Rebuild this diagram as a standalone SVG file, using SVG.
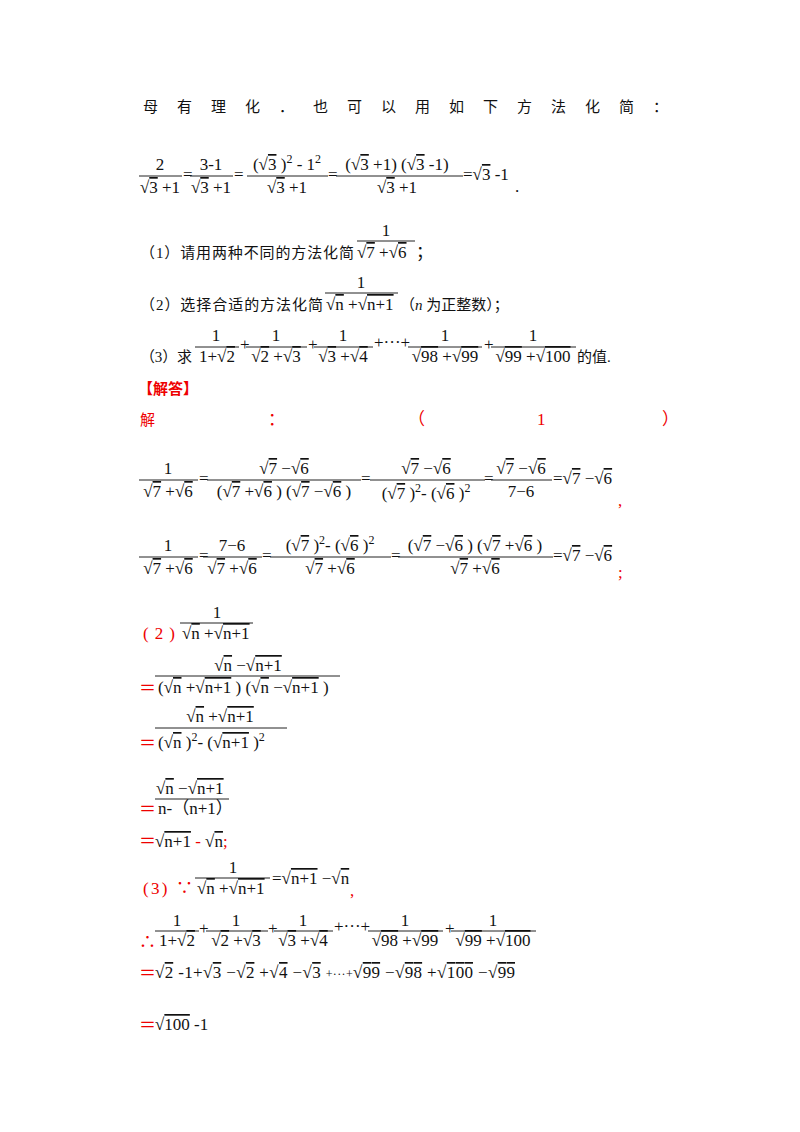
<svg xmlns="http://www.w3.org/2000/svg" width="800" height="1132" viewBox="0 0 800 1132">
<style>
text{font-family:"Liberation Serif","Noto Sans CJK SC",serif;font-size:17px;fill:#111}
.z{font-size:15px}
.c{text-anchor:middle}
.r{fill:#e00}
.o{text-decoration:overline}
line{stroke:#222;stroke-width:1}
</style>
<rect width="800" height="1132" fill="#fff"/>
<g id="intro">
<text class="z" x="143" y="112" textLength="525" lengthAdjust="spacing">母有理化．也可以用如下方法化简：</text>
</g>
<g id="eq0">
<text class="c" x="160" y="170">2</text><line x1="139" y1="176" x2="182" y2="176"/><text class="c" x="160" y="193">√<tspan class="o">3</tspan> +1</text>
<text x="183" y="180">=</text>
<text class="c" x="211" y="170">3-1</text><line x1="190" y1="176" x2="233" y2="176"/><text class="c" x="211" y="193">√<tspan class="o">3</tspan> +1</text>
<text x="234" y="180">=</text>
<text class="c" x="287" y="170">(√<tspan class="o">3</tspan> )<tspan dy="-7" font-size="12">2</tspan><tspan dy="7"> - 1</tspan><tspan dy="-7" font-size="12">2</tspan></text><line x1="247" y1="176" x2="328" y2="176"/><text class="c" x="287" y="193">√<tspan class="o">3</tspan> +1</text>
<text x="328" y="180">=</text>
<text class="c" x="397" y="170">(√<tspan class="o">3</tspan> +1) (√<tspan class="o">3</tspan> -1)</text><line x1="336" y1="176" x2="463" y2="176"/><text class="c" x="397" y="193">√<tspan class="o">3</tspan> +1</text>
<text x="463" y="180">=√<tspan class="o">3</tspan> -1</text>
<text x="515" y="192">.</text>
</g>
<g id="q1">
<text class="z" x="140" y="258" textLength="214">（1）请用两种不同的方法化简</text>
<text class="c" x="386" y="236">1</text><line x1="357" y1="241" x2="415" y2="241"/><text x="357" y="258">√<tspan class="o">7</tspan> +√<tspan class="o">6</tspan></text>
<text x="416" y="258">；</text>
</g>
<g id="q2">
<text class="z" x="140" y="310" textLength="183">（2）选择合适的方法化简</text>
<text class="c" x="361" y="288">1</text><line x1="325" y1="293" x2="398" y2="293"/><text x="326" y="310">√<tspan class="o">n</tspan> +√<tspan class="o">n+1</tspan></text>
<text class="z" x="400" y="310">（<tspan font-style="italic">n</tspan> 为正整数）；</text>
</g>
<g id="q3">
<text class="z" x="140" y="362" textLength="52">（3）求</text>
<text class="c" x="216" y="341">1</text><line x1="195" y1="347" x2="239" y2="347"/><text class="c" x="217" y="362">1+√<tspan class="o">2</tspan></text>
<text x="240" y="350" font-size="12">+</text>
<text class="c" x="276" y="341">1</text><line x1="246" y1="347" x2="307" y2="347"/><text class="c" x="276" y="362">√<tspan class="o">2</tspan> +√<tspan class="o">3</tspan></text>
<text x="308" y="350" font-size="12">+</text>
<text class="c" x="343" y="341">1</text><line x1="314" y1="347" x2="373" y2="347"/><text class="c" x="343" y="362">√<tspan class="o">3</tspan> +√<tspan class="o">4</tspan></text>
<text x="374" y="348" font-size="12">+···+</text>
<text class="c" x="445" y="341">1</text><line x1="408" y1="347" x2="482" y2="347"/><text class="c" x="445" y="362">√<tspan class="o">98</tspan> +√<tspan class="o">99</tspan></text>
<text x="484" y="350" font-size="12">+</text>
<text class="c" x="533" y="341">1</text><line x1="491" y1="347" x2="576" y2="347"/><text class="c" x="533" y="362">√<tspan class="o">99</tspan> +√<tspan class="o">100</tspan></text>
<text class="z" x="577" y="362">的值.</text>
</g>
<g id="answer">
<text class="r z" x="138" y="394" font-weight="bold">【解答】</text>
<text class="r z" x="140" y="425">解</text><text class="r" x="268" y="425">：</text><text class="r" x="408" y="425">（</text><text class="r" x="537" y="425">1</text><text class="r" x="662" y="425">）</text>
</g>
<g id="p1a">
<text class="c" x="168" y="474">1</text><line x1="139" y1="480" x2="198" y2="480"/><text class="c" x="168" y="497">√<tspan class="o">7</tspan> +√<tspan class="o">6</tspan></text>
<text x="199" y="484">=</text>
<text class="c" x="284" y="474">√<tspan class="o">7</tspan> −√<tspan class="o">6</tspan></text><line x1="207" y1="480" x2="361" y2="480"/><text class="c" x="284" y="497">(√<tspan class="o">7</tspan> +√<tspan class="o">6</tspan> ) (√<tspan class="o">7</tspan> −√<tspan class="o">6</tspan> )</text>
<text x="361" y="484">=</text>
<text class="c" x="426" y="474">√<tspan class="o">7</tspan> −√<tspan class="o">6</tspan></text><line x1="370" y1="480" x2="485" y2="480"/><text class="c" x="426" y="499">(√<tspan class="o">7</tspan> )<tspan dy="-7" font-size="12">2</tspan><tspan dy="7">- (√</tspan><tspan class="o">6</tspan> )<tspan dy="-7" font-size="12">2</tspan></text>
<text x="484" y="484">=</text>
<text class="c" x="521" y="474">√<tspan class="o">7</tspan> −√<tspan class="o">6</tspan></text><line x1="491" y1="480" x2="552" y2="480"/><text class="c" x="521" y="497">7−6</text>
<text x="553" y="484">=√<tspan class="o">7</tspan> −√<tspan class="o">6</tspan></text>
<text class="r" x="618" y="506" font-size="12">,</text>
</g>
<g id="p1b">
<text class="c" x="168" y="551">1</text><line x1="139" y1="557" x2="198" y2="557"/><text class="c" x="168" y="574">√<tspan class="o">7</tspan> +√<tspan class="o">6</tspan></text>
<text x="199" y="561">=</text>
<text class="c" x="232" y="551">7−6</text><line x1="203" y1="557" x2="262" y2="557"/><text class="c" x="232" y="574">√<tspan class="o">7</tspan> +√<tspan class="o">6</tspan></text>
<text x="262" y="561">=</text>
<text class="c" x="330" y="551">(√<tspan class="o">7</tspan> )<tspan dy="-7" font-size="12">2</tspan><tspan dy="7">- (√</tspan><tspan class="o">6</tspan> )<tspan dy="-7" font-size="12">2</tspan></text><line x1="270" y1="557" x2="391" y2="557"/><text class="c" x="330" y="574">√<tspan class="o">7</tspan> +√<tspan class="o">6</tspan></text>
<text x="391" y="561">=</text>
<text class="c" x="475" y="551">(√<tspan class="o">7</tspan> −√<tspan class="o">6</tspan> ) (√<tspan class="o">7</tspan> +√<tspan class="o">6</tspan> )</text><line x1="398" y1="557" x2="553" y2="557"/><text class="c" x="475" y="574">√<tspan class="o">7</tspan> +√<tspan class="o">6</tspan></text>
<text x="553" y="561">=√<tspan class="o">7</tspan> −√<tspan class="o">6</tspan></text>
<text class="r" x="618" y="578" font-size="12">;</text>
</g>
<g id="p2">
<text class="r" x="143" y="639" font-size="15" textLength="32">(2)</text>
<text class="c" x="217" y="618">1</text><line x1="180" y1="623" x2="253" y2="623"/><text x="182" y="639">√<tspan class="o">n</tspan> +√<tspan class="o">n+1</tspan></text>
<text class="c" x="248" y="671">√<tspan class="o">n</tspan> −√<tspan class="o">n+1</tspan></text><line x1="155" y1="676" x2="340" y2="676"/>
<text class="r" x="139" y="694">＝</text><text x="158" y="693">(√<tspan class="o">n</tspan> +√<tspan class="o">n+1</tspan> ) (√<tspan class="o">n</tspan> −√<tspan class="o">n+1</tspan> )</text>
<text class="c" x="220" y="722">√<tspan class="o">n</tspan> +√<tspan class="o">n+1</tspan></text><line x1="155" y1="728" x2="287" y2="728"/>
<text class="r" x="139" y="749">＝</text><text x="158" y="748">(√<tspan class="o">n</tspan> )<tspan dy="-7" font-size="12">2</tspan><tspan dy="7">- (√</tspan><tspan class="o">n+1</tspan> )<tspan dy="-7" font-size="12">2</tspan></text>
<text x="156" y="794">√<tspan class="o">n</tspan> −√<tspan class="o">n+1</tspan></text><line x1="155" y1="799" x2="229" y2="799"/>
<text class="r" x="139" y="815">＝</text><text x="158" y="814">n-（n+1）</text>
<text class="r" x="139" y="847">＝</text><text x="155" y="847">√<tspan class="o">n+1</tspan> <tspan class="r">-</tspan> √<tspan class="o">n</tspan><tspan class="r">;</tspan></text>
</g>
<g id="p3">
<text class="r" x="143" y="894" font-size="15" textLength="50">(3) ∵</text>
<text class="c" x="233" y="873">1</text><line x1="195" y1="878" x2="270" y2="878"/><text x="197" y="894">√<tspan class="o">n</tspan> +√<tspan class="o">n+1</tspan></text>
<text x="272" y="884">=√<tspan class="o">n+1</tspan> −√<tspan class="o">n</tspan></text>
<text class="r" x="350" y="896" font-size="12">,</text>
<text class="r" x="139" y="948">∴</text>
<text class="c" x="177" y="926">1</text><line x1="155" y1="931" x2="199" y2="931"/><text class="c" x="177" y="946">1+√<tspan class="o">2</tspan></text>
<text x="199" y="934" font-size="12">+</text>
<text class="c" x="236" y="926">1</text><line x1="206" y1="931" x2="268" y2="931"/><text class="c" x="236" y="946">√<tspan class="o">2</tspan> +√<tspan class="o">3</tspan></text>
<text x="268" y="934" font-size="12">+</text>
<text class="c" x="303" y="926">1</text><line x1="274" y1="931" x2="333" y2="931"/><text class="c" x="303" y="946">√<tspan class="o">3</tspan> +√<tspan class="o">4</tspan></text>
<text x="334" y="932" font-size="12">+···+</text>
<text class="c" x="405" y="926">1</text><line x1="368" y1="931" x2="443" y2="931"/><text class="c" x="405" y="946">√<tspan class="o">98</tspan> +√<tspan class="o">99</tspan></text>
<text x="445" y="934" font-size="12">+</text>
<text class="c" x="493" y="926">1</text><line x1="451" y1="931" x2="536" y2="931"/><text class="c" x="493" y="946">√<tspan class="o">99</tspan> +√<tspan class="o">100</tspan></text>
<text class="r" x="139" y="979">＝</text><text x="155" y="978" textLength="360">√<tspan class="o">2</tspan> -1+√<tspan class="o">3</tspan> −√<tspan class="o">2</tspan> +√<tspan class="o">4</tspan> −√<tspan class="o">3</tspan> <tspan font-size="12">+···+</tspan>√<tspan class="o">99</tspan> −√<tspan class="o">98</tspan> +√<tspan class="o">100</tspan> −√<tspan class="o">99</tspan></text>
<text class="r" x="139" y="1031">＝</text><text x="155" y="1030">√<tspan class="o">100</tspan> -1</text>
</g>
</svg>
